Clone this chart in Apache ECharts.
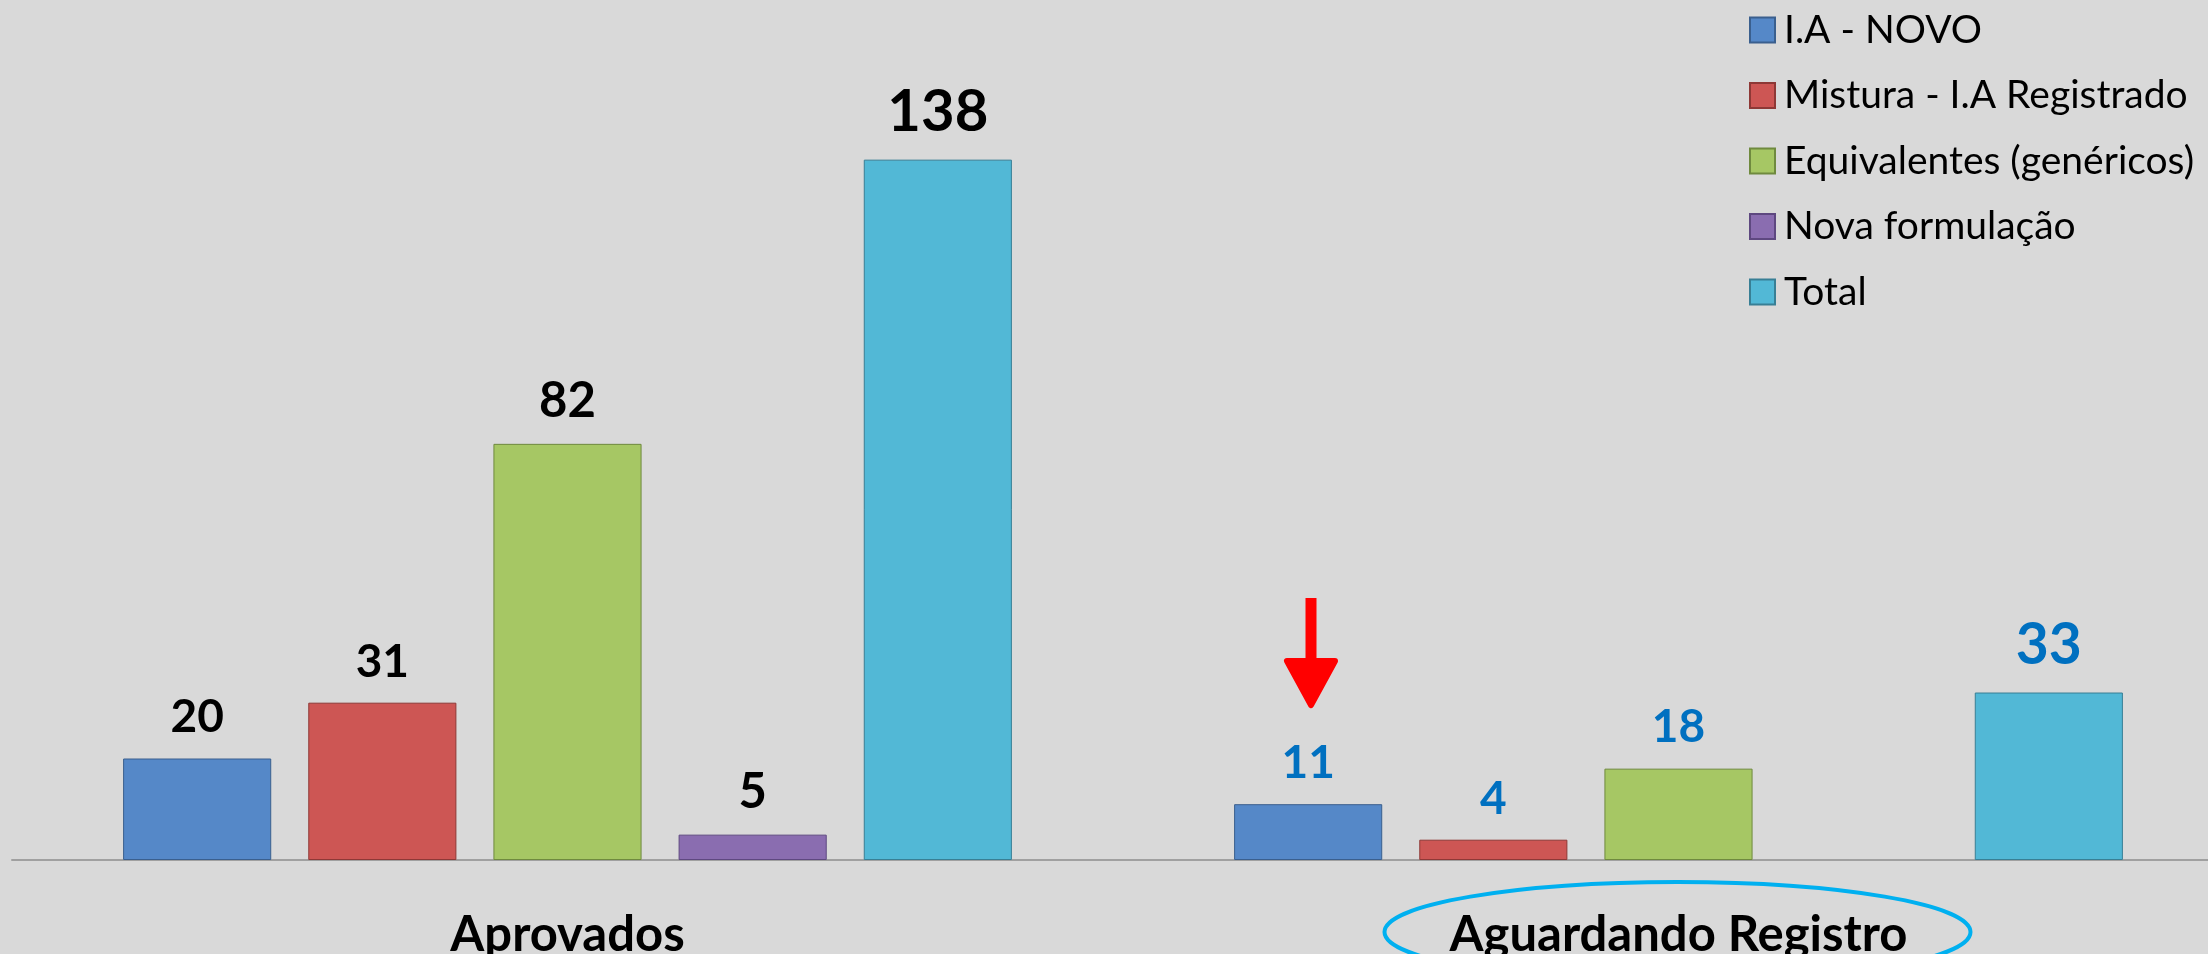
<!DOCTYPE html>
<html>
<head>
<meta charset="utf-8">
<script src="https://cdn.jsdelivr.net/npm/echarts@6/dist/echarts.min.js"></script>
<style>
html,body{margin:0;padding:0;background:#D9D9D9;}
#chart{width:2208px;height:954px;}
</style>
</head>
<body>
<div id="chart"></div>
<script>
// ---- data ----
const categories = ['Aprovados', 'Aguardando Registro'];
const seriesNames = ['I.A - NOVO', 'Mistura - I.A Registrado', 'Equivalentes (genéricos)', 'Nova formulação', 'Total'];
const iaNovo = [20, 11];
const mistura = [31, 4];
const equivalentes = [82, 18];
const novaFormulacao = [5, null];
const total = [138, 33];

// ---- styles ----
const seriesColors = ['#5588C8', '#CD5654', '#A6C764', '#8A6DB0', '#52B8D6'];
const borderColors = ['#3A5F8E', '#8E3836', '#6F8A3E', '#5E4880', '#387F95'];
const labelColorsByCategory = ['#000000', '#0070C0'];
const labelSizes = [
  [46, 46],
  [46, 46],
  [49, 46],
  [49, 46],
  [58, 57]
];
const FONT = 'Lato';

const seriesData = [iaNovo, mistura, equivalentes, novaFormulacao, total];

const chart = echarts.init(document.getElementById('chart'), null, {renderer: 'canvas'});

const series = seriesData.map((arr, si) => ({
  name: seriesNames[si],
  type: 'bar',
  barGap: '25%',
  barCategoryGap: '20%',
  itemStyle: {
    color: seriesColors[si],
    borderColor: borderColors[si],
    borderWidth: 1
  },
  data: arr.map((v, ci) => ({
    value: v,
    label: {
      color: labelColorsByCategory[ci],
      fontSize: labelSizes[si][ci]
    }
  })),
  label: {
    show: true,
    position: 'top',
    distance: 18,
    fontFamily: FONT,
    fontWeight: 'bold'
  }
}));

const option = {
  backgroundColor: '#D9D9D9',
  animation: false,
  grid: {left: 12, width: 2222, top: 48, bottom: 94, outerBoundsMode: 'none', containLabel: false},
  legend: {
    orient: 'vertical',
    left: 1749,
    top: 10,
    padding: 0,
    itemWidth: 25,
    itemHeight: 25,
    itemGap: 25.5,
    icon: 'rect',
    textStyle: {fontFamily: FONT, fontSize: 39, color: '#000', lineHeight: 40, padding: [0, 0, 0, 4]},
    data: seriesNames
  },
  xAxis: {
    type: 'category',
    data: categories,
    axisLine: {lineStyle: {color: '#A0A0A0', width: 2}},
    axisTick: {show: false},
    axisLabel: {fontFamily: FONT, fontWeight: 'bold', fontSize: 49, color: '#000', margin: 51}
  },
  yAxis: {
    type: 'value',
    min: 0,
    max: 160,
    show: false,
    splitLine: {show: false}
  },
  series: series,
  graphic: [
    {
      type: 'ellipse',
      shape: {cx: 1677.5, cy: 932, rx: 293, ry: 50},
      style: {fill: 'none', stroke: '#00B0F0', lineWidth: 4},
      z: 100
    },
    {
      type: 'line',
      shape: {x1: 1311, y1: 598, x2: 1311, y2: 680},
      style: {stroke: '#FF0000', lineWidth: 11},
      z: 100
    },
    {
      type: 'polygon',
      shape: {points: [[1287, 661], [1335, 661], [1311, 705]]},
      style: {fill: '#FF0000', stroke: '#FF0000', lineWidth: 6, lineJoin: 'round'},
      z: 100
    }
  ]
};

chart.setOption(option);
</script>
</body>
</html>
